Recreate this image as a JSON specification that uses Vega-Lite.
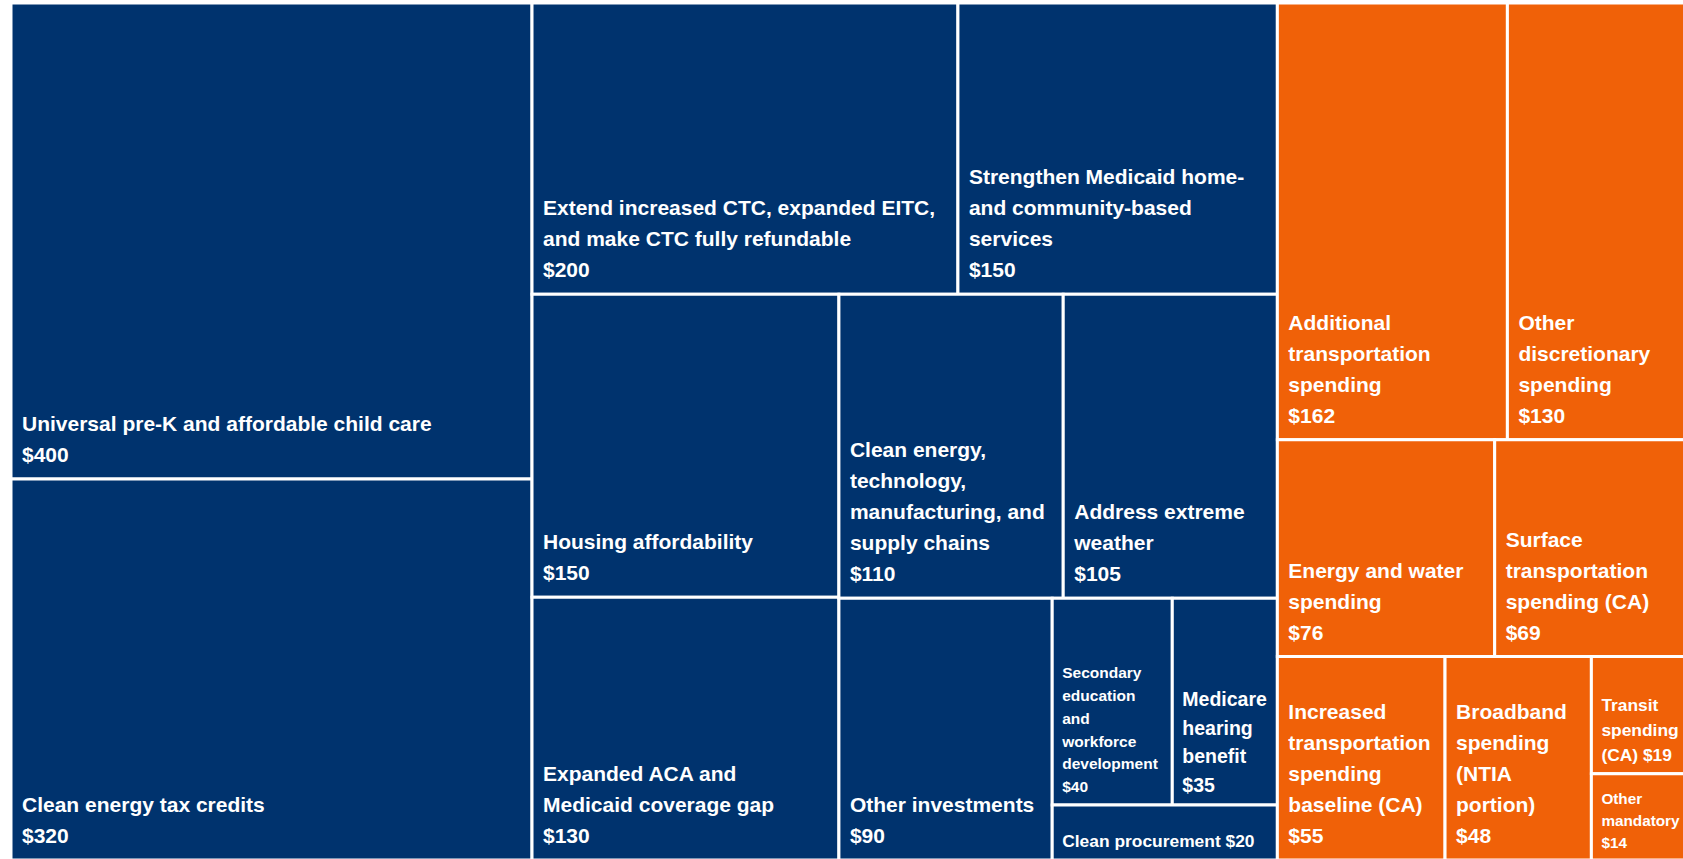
{
  "$schema": "https://vega.github.io/schema/vega-lite/v6.json",
  "width": 1672,
  "height": 856,
  "autosize": {"type": "none"},
  "padding": {"left": 11, "top": 3, "right": 0, "bottom": 0},
  "background": "white",
  "config": {"view": {"stroke": null}, "text": {"font": "Liberation Sans", "fontWeight": "bold", "color": "white", "align": "left", "baseline": "bottom", "lineBreak": "\n", "clip": true}},
  "data": {
    "values": [
      {"i": 1, "v": 400, "k1": "A", "k2": "a1", "k3": "", "k4": "", "k5": "", "k6": "", "k7": "", "label": "Universal pre-K and affordable child care\n$400"},
      {"i": 2, "v": 320, "k1": "A", "k2": "a2", "k3": "", "k4": "", "k5": "", "k6": "", "k7": "", "label": "Clean energy tax credits\n$320"},
      {"i": 3, "v": 200, "k1": "B", "k2": "B1", "k3": "x3", "k4": "", "k5": "", "k6": "", "k7": "", "label": "Extend increased CTC, expanded EITC,\nand make CTC fully refundable\n$200"},
      {"i": 4, "v": 150, "k1": "B", "k2": "B1", "k3": "x4", "k4": "", "k5": "", "k6": "", "k7": "", "label": "Strengthen Medicaid home-\nand community-based\nservices\n$150"},
      {"i": 5, "v": 150, "k1": "B", "k2": "B2", "k3": "B2a", "k4": "x5", "k5": "", "k6": "", "k7": "", "label": "Housing affordability\n$150"},
      {"i": 6, "v": 130, "k1": "B", "k2": "B2", "k3": "B2a", "k4": "x6", "k5": "", "k6": "", "k7": "", "label": "Expanded ACA and\nMedicaid coverage gap\n$130"},
      {"i": 7, "v": 110, "k1": "B", "k2": "B2", "k3": "B2b", "k4": "R1", "k5": "x7", "k6": "", "k7": "", "label": "Clean energy,\ntechnology,\nmanufacturing, and\nsupply chains\n$110"},
      {"i": 8, "v": 105, "k1": "B", "k2": "B2", "k3": "B2b", "k4": "R1", "k5": "x8", "k6": "", "k7": "", "label": "Address extreme\nweather\n$105"},
      {"i": 9, "v": 90, "k1": "B", "k2": "B2", "k3": "B2b", "k4": "R2", "k5": "x9", "k6": "", "k7": "", "label": "Other investments\n$90"},
      {"i": 10, "v": 40, "k1": "B", "k2": "B2", "k3": "B2b", "k4": "R2", "k5": "C", "k6": "Crow", "k7": "x10", "label": "Secondary\neducation\nand\nworkforce\ndevelopment\n$40"},
      {"i": 11, "v": 35, "k1": "B", "k2": "B2", "k3": "B2b", "k4": "R2", "k5": "C", "k6": "Crow", "k7": "x11", "label": "Medicare\nhearing\nbenefit\n$35"},
      {"i": 12, "v": 20, "k1": "B", "k2": "B2", "k3": "B2b", "k4": "R2", "k5": "C", "k6": "x12", "k7": "", "label": "Clean procurement $20"},
      {"i": 13, "v": 162, "k1": "O", "k2": "O1", "k3": "x13", "k4": "", "k5": "", "k6": "", "k7": "", "label": "Additional\ntransportation\nspending\n$162"},
      {"i": 14, "v": 130, "k1": "O", "k2": "O1", "k3": "x14", "k4": "", "k5": "", "k6": "", "k7": "", "label": "Other\ndiscretionary\nspending\n$130"},
      {"i": 15, "v": 76, "k1": "O", "k2": "O2", "k3": "x15", "k4": "", "k5": "", "k6": "", "k7": "", "label": "Energy and water\nspending\n$76"},
      {"i": 16, "v": 69, "k1": "O", "k2": "O2", "k3": "x16", "k4": "", "k5": "", "k6": "", "k7": "", "label": "Surface\ntransportation\nspending (CA)\n$69"},
      {"i": 17, "v": 55, "k1": "O", "k2": "O3", "k3": "x17", "k4": "", "k5": "", "k6": "", "k7": "", "label": "Increased\ntransportation\nspending\nbaseline (CA)\n$55"},
      {"i": 18, "v": 48, "k1": "O", "k2": "O3", "k3": "x18", "k4": "", "k5": "", "k6": "", "k7": "", "label": "Broadband\nspending\n(NTIA\nportion)\n$48"},
      {"i": 19, "v": 19, "k1": "O", "k2": "O3", "k3": "D", "k4": "x19", "k5": "", "k6": "", "k7": "", "label": "Transit\nspending\n(CA) $19"},
      {"i": 20, "v": 14, "k1": "O", "k2": "O3", "k3": "D", "k4": "x20", "k5": "", "k6": "", "k7": "", "label": "Other\nmandatory\n$14"}
    ]
  },
  "transform": [
    {"joinaggregate": [{"op": "sum", "field": "v", "as": "S0"}]},
    {"joinaggregate": [{"op": "sum", "field": "v", "as": "S1"}], "groupby": ["k1"]},
    {"joinaggregate": [{"op": "sum", "field": "v", "as": "S2"}], "groupby": ["k1", "k2"]},
    {"joinaggregate": [{"op": "sum", "field": "v", "as": "S3"}], "groupby": ["k1", "k2", "k3"]},
    {"joinaggregate": [{"op": "sum", "field": "v", "as": "S4"}], "groupby": ["k1", "k2", "k3", "k4"]},
    {"joinaggregate": [{"op": "sum", "field": "v", "as": "S5"}], "groupby": ["k1", "k2", "k3", "k4", "k5"]},
    {"joinaggregate": [{"op": "sum", "field": "v", "as": "S6"}], "groupby": ["k1", "k2", "k3", "k4", "k5", "k6"]},
    {"joinaggregate": [{"op": "sum", "field": "v", "as": "S7"}], "groupby": ["k1", "k2", "k3", "k4", "k5", "k6", "k7"]},
    {"window": [{"op": "sum", "field": "v", "as": "C0"}], "sort": [{"field": "i"}], "frame": [null, 0]},
    {"window": [{"op": "sum", "field": "v", "as": "C1"}], "groupby": ["k1"], "sort": [{"field": "i"}], "frame": [null, 0]},
    {"window": [{"op": "sum", "field": "v", "as": "C2"}], "groupby": ["k1", "k2"], "sort": [{"field": "i"}], "frame": [null, 0]},
    {"window": [{"op": "sum", "field": "v", "as": "C3"}], "groupby": ["k1", "k2", "k3"], "sort": [{"field": "i"}], "frame": [null, 0]},
    {"window": [{"op": "sum", "field": "v", "as": "C4"}], "groupby": ["k1", "k2", "k3", "k4"], "sort": [{"field": "i"}], "frame": [null, 0]},
    {"window": [{"op": "sum", "field": "v", "as": "C5"}], "groupby": ["k1", "k2", "k3", "k4", "k5"], "sort": [{"field": "i"}], "frame": [null, 0]},
    {"window": [{"op": "sum", "field": "v", "as": "C6"}], "groupby": ["k1", "k2", "k3", "k4", "k5", "k6"], "sort": [{"field": "i"}], "frame": [null, 0]},
    {"window": [{"op": "sum", "field": "v", "as": "C7"}], "groupby": ["k1", "k2", "k3", "k4", "k5", "k6", "k7"], "sort": [{"field": "i"}], "frame": [null, 0]},
    {"calculate": "(datum.C0 - datum.C1) / datum.S0", "as": "xa1"},
    {"calculate": "datum.xa1 + datum.S1 / datum.S0", "as": "xb1"},
    {"calculate": "(datum.C1 - datum.C2) / datum.S1", "as": "ya2"},
    {"calculate": "datum.ya2 + datum.S2 / datum.S1", "as": "yb2"},
    {"calculate": "datum.xa1 + (datum.xb1 - datum.xa1) * (datum.C2 - datum.C3) / datum.S2", "as": "xa3"},
    {"calculate": "datum.xa3 + (datum.xb1 - datum.xa1) * datum.S3 / datum.S2", "as": "xb3"},
    {"calculate": "datum.ya2 + (datum.yb2 - datum.ya2) * (datum.C3 - datum.C4) / datum.S3", "as": "ya4"},
    {"calculate": "datum.ya4 + (datum.yb2 - datum.ya2) * datum.S4 / datum.S3", "as": "yb4"},
    {"calculate": "datum.xa3 + (datum.xb3 - datum.xa3) * (datum.C4 - datum.C5) / datum.S4", "as": "xa5"},
    {"calculate": "datum.xa5 + (datum.xb3 - datum.xa3) * datum.S5 / datum.S4", "as": "xb5"},
    {"calculate": "datum.ya4 + (datum.yb4 - datum.ya4) * (datum.C5 - datum.C6) / datum.S5", "as": "ya6"},
    {"calculate": "datum.ya6 + (datum.yb4 - datum.ya4) * datum.S6 / datum.S5", "as": "yb6"},
    {"calculate": "datum.xa5 + (datum.xb5 - datum.xa5) * (datum.C6 - datum.C7) / datum.S6", "as": "xa7"},
    {"calculate": "datum.xa7 + (datum.xb5 - datum.xa5) * datum.S7 / datum.S6", "as": "xb7"},
    {"calculate": "length(split(datum.label, '\\n'))", "as": "nl"}
  ],
  "encoding": {
    "x": {"field": "xa7", "type": "quantitative", "axis": null, "scale": {"domain": [0, 0.99465], "nice": false, "zero": false}},
    "y": {"field": "yb6", "type": "quantitative", "axis": null, "scale": {"domain": [0, 0.99883], "nice": false, "zero": false, "reverse": true}},
    "text": {"field": "label", "type": "nominal"}
  },
  "layer": [
    {
      "mark": {"type": "rect", "stroke": "white", "strokeWidth": 3, "clip": true},
      "encoding": {
        "y": {"field": "ya6", "type": "quantitative"},
        "x2": {"field": "xb7"},
        "y2": {"field": "yb6"},
        "color": {"field": "k1", "type": "nominal", "legend": null, "scale": {"domain": ["A", "B", "O"], "range": ["#00336E", "#00336E", "#F06108"]}}
      }
    },
    {"transform": [{"filter": "datum.v >= 48 && datum.nl == 2"}], "mark": {"type": "text", "dx": 11, "dy": -44, "fontSize": 21, "lineHeight": 31}},
    {"transform": [{"filter": "datum.v >= 48 && datum.nl == 3"}], "mark": {"type": "text", "dx": 11, "dy": -75, "fontSize": 21, "lineHeight": 31}},
    {"transform": [{"filter": "datum.v >= 48 && datum.nl == 4"}], "mark": {"type": "text", "dx": 11, "dy": -106, "fontSize": 21, "lineHeight": 31}},
    {"transform": [{"filter": "datum.v >= 48 && datum.nl == 5"}], "mark": {"type": "text", "dx": 11, "dy": -137, "fontSize": 21, "lineHeight": 31}},
    {"transform": [{"filter": "datum.v == 35"}], "mark": {"type": "text", "dx": 10, "dy": -94.5, "fontSize": 19.5, "lineHeight": 28.5}},
    {"transform": [{"filter": "datum.v == 40"}], "mark": {"type": "text", "dx": 10, "dy": -123.5, "fontSize": 15.5, "lineHeight": 22.7}},
    {"transform": [{"filter": "datum.v == 20"}], "mark": {"type": "text", "dx": 10, "dy": -9, "fontSize": 17.4, "lineHeight": 25}},
    {"transform": [{"filter": "datum.v == 19"}], "mark": {"type": "text", "dx": 10, "dy": -59, "fontSize": 17.4, "lineHeight": 25}},
    {"transform": [{"filter": "datum.v == 14"}], "mark": {"type": "text", "dx": 10, "dy": -53, "fontSize": 15.3, "lineHeight": 22}}
  ]
}
